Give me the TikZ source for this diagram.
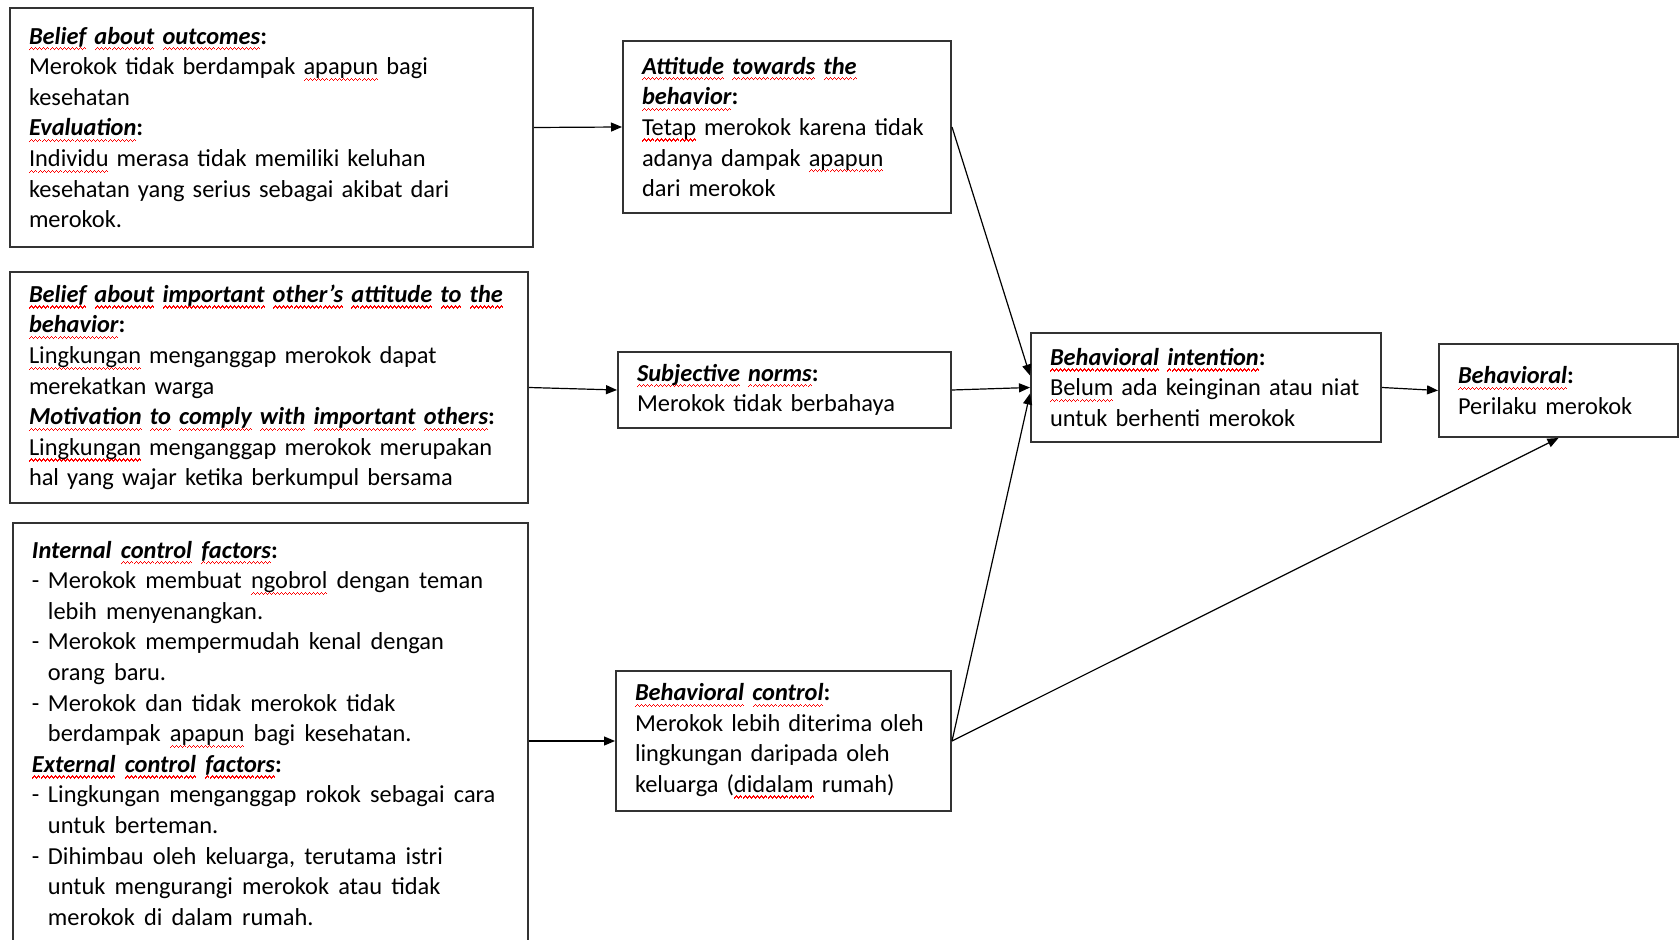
\documentclass[tikz,border=0pt]{standalone}
\usepackage{fontspec}
\setmainfont{Carlito}
\usetikzlibrary{arrows.meta}
% sottolineatura ondulata rossa
\newcommand\wv{\hbox{{\color{red}\rule[-3.1pt]{0.5pt}{0.6pt}\rule[-2.6pt]{0.5pt}{0.6pt}%
	\rule[-2.1pt]{0.5pt}{0.6pt}\rule[-2.6pt]{0.5pt}{0.6pt}}}}
\newcommand\sq[1]{\leavevmode\setbox0\hbox{#1}\rlap{\hbox to \wd0{\xleaders\wv\hfill}}\box0\relax}
\newcommand\dash{\makebox[8pt][l]{-}}
\newcommand\ind{\hspace*{8pt}}

\begin{document}
\begin{tikzpicture}[x=0.5pt, y=-0.5pt,
	box/.style={draw=black!80, line width=1pt, anchor=north west, align=left,
		inner xsep=9.5pt, inner ysep=0pt, font=\fontsize{12.2}{15.3}\selectfont},
	arr/.style={-{Triangle[length=5.5pt,width=4.5pt]}, line width=0.6pt}]
	\clip (0,0) rectangle (1679,940);
	
	%credenze
	\node[box, minimum width=261.5pt, minimum height=119.5pt, text width=242.5pt] (outc) at (9,7) {%
		\textbf{\textit{\sq{Belief} \sq{about} \sq{outcomes}}:}\\
		Merokok tidak berdampak \sq{apapun} bagi\\
		kesehatan\\
		\textbf{\textit{\sq{Evaluation}}:}\\
		\sq{Individu} merasa tidak memiliki keluhan\\
		kesehatan yang serius sebagai akibat dari\\
		merokok.};
	\node[box, minimum width=259pt, minimum height=115.5pt, text width=240pt] (norm) at (9,271) {%
		\textbf{\textit{\sq{Belief} \sq{about} \sq{important} \sq{other’s} \sq{attitude} \sq{to} \sq{the}}}\\
		\textbf{\textit{\sq{behavior}}:}\\
		\sq{Lingkungan} menganggap merokok dapat\\
		merekatkan warga\\
		\textbf{\textit{\sq{Motivation} \sq{to} \sq{comply} \sq{with} \sq{important} \sq{others}}:}\\
		\sq{Lingkungan} menganggap merokok merupakan\\
		hal yang wajar ketika berkumpul bersama};
	\node[box, inner ysep=9pt] (fact) at (12,522) {\parbox[c][215pt][t]{238.5pt}{%
		\spaceskip=4.6pt plus 1pt
		\textbf{\textit{Internal \sq{control} \sq{factors}}:}\\
		\dash Merokok membuat \sq{ngobrol} dengan teman\\
		\ind lebih menyenangkan.\\
		\dash Merokok mempermudah kenal dengan\\
		\ind orang baru.\\
		\dash Merokok dan tidak merokok tidak\\
		\ind berdampak \sq{apapun} bagi kesehatan.\\
		\textbf{\textit{\sq{External} \sq{control} \sq{factors}}:}\\
		\dash Lingkungan menganggap rokok sebagai cara\\
		\ind untuk berteman.\\
		\dash Dihimbau oleh keluarga, terutama istri\\
		\ind untuk mengurangi merokok atau tidak\\
		\ind merokok di dalam rumah.}};
	
	%colonna centrale
	\node[box, minimum width=164pt, minimum height=86pt, text width=145pt] (att) at (622,40) {%
		\textbf{\textit{\sq{Attitude} \sq{towards} \sq{the}}}\\
		\textbf{\textit{\sq{behavior}}:}\\
		\sq{Tetap} merokok karena tidak\\
		adanya dampak \sq{apapun}\\
		dari merokok};
	\node[box, minimum width=166.5pt, minimum height=38pt, text width=147.5pt] (subj) at (617,351) {%
		\textbf{\textit{\sq{Subjective} \sq{norms}}:}\\
		Merokok tidak berbahaya};
	\node[box, minimum width=167.5pt, minimum height=70pt, text width=148.5pt] (ctrl) at (615,670) {%
		\textbf{\textit{\sq{Behavioral} \sq{control}}:}\\
		Merokok lebih diterima oleh\\
		lingkungan daripada oleh\\
		keluarga (\sq{didalam} rumah)};
	
	%intenzione e comportamento
	\node[box, minimum width=175pt, minimum height=54.5pt, text width=156pt] (intn) at (1030,332) {%
		\textbf{\textit{\sq{Behavioral} \sq{intention}}:}\\
		\sq{Belum} ada keinginan atau niat\\
		untuk berhenti merokok};
	\node[box, minimum width=119.5pt, minimum height=46.5pt, text width=100.5pt] (behv) at (1438,343) {%
		\textbf{\textit{\sq{Behavioral}}:}\\
		Perilaku merokok};
	
	%frecce
	\draw[arr] (outc.east) -- (att.west);
	\draw[arr] (norm.east) -- (subj.west);
	\draw[arr] (ctrl.west -| fact.east) -- (ctrl.west);
	\draw[arr] (att.east) -- ([yshift=6pt]intn.west);
	\draw[arr] (subj.east) -- (intn.west);
	\draw[arr] (ctrl.east) -- ([yshift=-3pt]intn.west);
	\draw[arr] (ctrl.east) -- (behv.south);
	\draw[arr] (intn.east) -- (behv.west);
\end{tikzpicture}
\end{document}
